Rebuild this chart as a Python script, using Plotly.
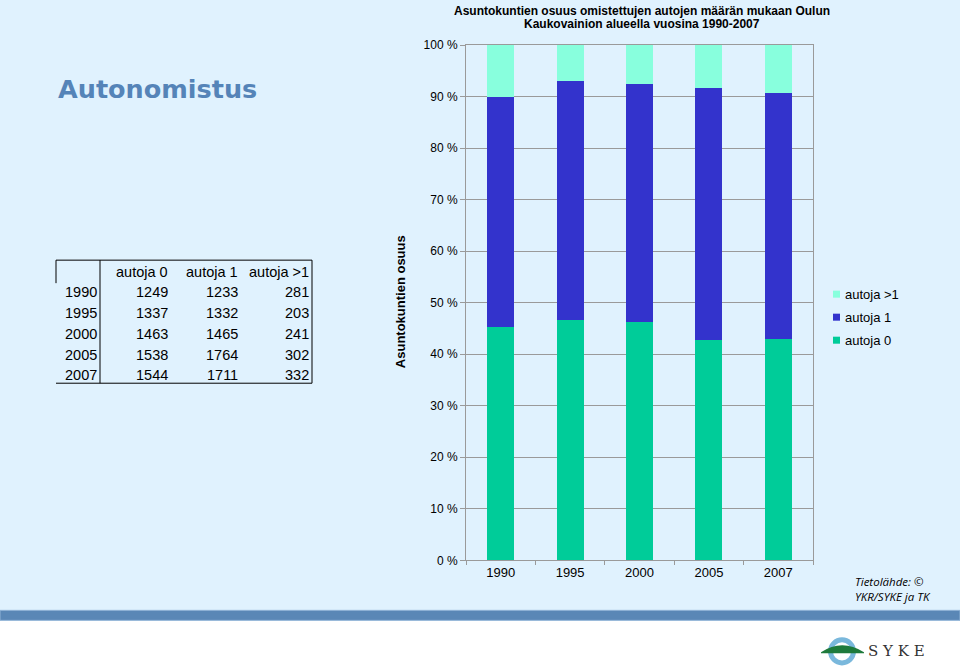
import plotly.graph_objects as go

years = ["1990", "1995", "2000", "2005", "2007"]
autoja_0 = [1249, 1337, 1463, 1538, 1544]
autoja_1 = [1233, 1332, 1465, 1764, 1711]
autoja_gt1 = [281, 203, 241, 302, 332]
series_names = ["autoja 0", "autoja 1", "autoja >1"]
ytick_vals = [i / 10 for i in range(11)]
ytick_text = [f"{i * 10} %" for i in range(11)]
title_lines = ["Asuntokuntien osuus omistettujen autojen määrän mukaan Oulun",
               "Kaukovainion alueella vuosina 1990-2007"]

W, H = 960, 672
# empirical vertical correction observed in the screenshot pipeline
V_OFF, V_SCALE = 7.0, 0.9786


def X(px):
    return px / W


def Y(py):
    return 1 - ((py - V_OFF) / V_SCALE) / H


totals = [a + b + c for a, b, c in zip(autoja_0, autoja_1, autoja_gt1)]
share0 = [a / t for a, t in zip(autoja_0, totals)]
share1 = [a / t for a, t in zip(autoja_1, totals)]
share2 = [a / t for a, t in zip(autoja_gt1, totals)]
colors = ["#00cc99", "#3333cc", "#88ffdd"]

FONT = "Liberation Sans"
fig = go.Figure()
for name, vals, col in zip(series_names, [share0, share1, share2], colors):
    fig.add_trace(go.Bar(x=years, y=vals, name=name, marker_color=col,
                         marker_line_width=0, showlegend=False, hoverinfo="skip"))

shapes = []
# background panel and band
shapes.append(dict(type="rect", xref="paper", yref="paper", x0=0, x1=1, y0=Y(610), y1=1.1,
                   fillcolor="#e0f2fe", line_width=0, layer="below"))
shapes.append(dict(type="rect", xref="paper", yref="paper", x0=0, x1=1, y0=Y(620), y1=Y(610),
                   fillcolor="#5a87b6", line=dict(color="#8fb3d6", width=1), layer="below"))

# table lines
tl = dict(color="black", width=1)
shapes += [
    dict(type="line", xref="paper", yref="paper", x0=X(56), x1=X(312), y0=Y(260), y1=Y(260), line=tl),
    dict(type="line", xref="paper", yref="paper", x0=X(56), x1=X(312), y0=Y(383), y1=Y(383), line=tl),
    dict(type="line", xref="paper", yref="paper", x0=X(56), x1=X(56), y0=Y(260), y1=Y(283), line=tl),
    dict(type="line", xref="paper", yref="paper", x0=X(100), x1=X(100), y0=Y(260), y1=Y(383), line=tl),
    dict(type="line", xref="paper", yref="paper", x0=X(312), x1=X(312), y0=Y(260), y1=Y(383), line=tl),
]

# manual legend (top to bottom: >1, 1, 0)
annotations = []
leg_y = [294, 317, 340]
for ly, name, col in zip(leg_y, series_names[::-1], colors[::-1]):
    shapes.append(dict(type="rect", xref="paper", yref="paper", x0=X(833), x1=X(840),
                       y0=Y(ly + 3.5), y1=Y(ly - 3.5), fillcolor=col, line_width=0))
    annotations.append(dict(text=name.replace(">", "&gt;"), x=X(843), y=Y(ly), xref="paper",
                            yref="paper", xanchor="left", yanchor="middle", showarrow=False,
                            font=dict(family=FONT, size=13, color="black")))

# SYKE logo
cx, cy, r = 842, 651, 14
shapes.append(dict(type="circle", xref="paper", yref="paper", x0=X(cx - r), x1=X(cx + r),
                   y0=Y(cy + r), y1=Y(cy - r), fillcolor="#7ab8dc", line_width=0))
shapes.append(dict(type="circle", xref="paper", yref="paper", x0=X(cx - 9), x1=X(cx + 9),
                   y0=Y(cy + 9), y1=Y(cy - 9), fillcolor="white", line_width=0))
hill = (f"M {X(821)} {Y(652)} Q {X(842)} {Y(638)} {X(864)} {Y(652)} "
        f"L {X(864)} {Y(653)} L {X(821)} {Y(653)} Z")
shapes.append(dict(type="path", xref="paper", yref="paper", path=hill,
                   fillcolor="#1e7a3c", line_width=0))

annotations.append(dict(text="<b>Autonomistus</b>", x=X(56), y=Y(89), xref="paper", yref="paper",
                        xanchor="left", yanchor="middle", showarrow=False,
                        font=dict(family="DejaVu Sans", size=25.5, color="#5584b8")))
for ty, line in zip([10.5, 23.5], title_lines):
    annotations.append(dict(text=f"<b>{line}</b>", x=X(642), y=Y(ty), xref="paper",
                            yref="paper", xanchor="center", yanchor="middle",
                            showarrow=False, font=dict(family=FONT, size=12, color="black")))
annotations.append(dict(text="<b>Asuntokuntien osuus</b>", x=X(400), y=Y(302), xref="paper",
                        yref="paper", xanchor="center", yanchor="middle", showarrow=False,
                        textangle=-90, font=dict(family=FONT, size=13, color="black")))
annotations.append(dict(text="<i>Tietolähde: ©<br>YKR/SYKE ja TK</i>", x=X(853), y=Y(589),
                        xref="paper", yref="paper", xanchor="left", yanchor="middle",
                        showarrow=False, align="left",
                        font=dict(family="Open Sans", size=11.5, color="black")))
annotations.append(dict(text="S Y K E", x=X(866), y=Y(651), xref="paper", yref="paper",
                        xanchor="left", yanchor="middle", showarrow=False,
                        font=dict(family="DejaVu Serif", size=15, color="#333333")))

# table text
TF = dict(family="Liberation Sans", size=14.5, color="black")
col_right = [170, 240, 311]
headers = ["autoja 0", "autoja 1", "autoja &gt;1"]
for hx, ht in zip(col_right, headers):
    annotations.append(dict(text=ht, x=X(hx), y=Y(272), xref="paper", yref="paper",
                            xanchor="right", yanchor="middle", showarrow=False, font=TF))
row_y = [292, 313, 334, 355, 375]
for i, yr in enumerate(years):
    annotations.append(dict(text=yr, x=X(99), y=Y(row_y[i]), xref="paper", yref="paper",
                            xanchor="right", yanchor="middle", showarrow=False, font=TF))
    for hx, val in zip(col_right, [autoja_0[i], autoja_1[i], autoja_gt1[i]]):
        annotations.append(dict(text=str(val), x=X(hx), y=Y(row_y[i]), xref="paper",
                                yref="paper", xanchor="right", yanchor="middle",
                                showarrow=False, font=TF))

fig.update_layout(
    width=W, height=H, margin=dict(l=0, r=0, t=0, b=0),
    paper_bgcolor="white", plot_bgcolor="rgba(0,0,0,0)",
    barmode="stack", bargap=0.61, showlegend=False, hovermode=False,
    font=dict(family=FONT, size=12, color="black"),
    shapes=shapes, annotations=annotations,
    xaxis=dict(domain=[X(466), X(813)], showline=True, linecolor="#9a9a9a", mirror=True,
               ticks="outside", tickson="boundaries", ticklen=4, tickcolor="#9a9a9a",
               tickfont=dict(size=13), showgrid=False),
    yaxis=dict(domain=[Y(560), Y(45)], range=[0, 1], tickvals=ytick_vals, ticktext=ytick_text,
               showline=True, linecolor="#9a9a9a", mirror=True, ticks="outside", ticklen=5,
               tickcolor="#9a9a9a", showgrid=True, gridcolor="#9a9a9a", gridwidth=1,
               tickfont=dict(size=12), zeroline=False),
)

post = (
    "document.documentElement.style.margin='0';"
    "document.documentElement.style.padding='0';"
    "document.documentElement.style.overflow='hidden';"
    "document.body.style.margin='0';"
    "document.body.style.padding='0';"
    "document.body.style.overflow='hidden';"
    "var d=document.getElementById('{plot_id}');"
    "d.style.position='fixed';d.style.left='0px';d.style.top='0px';"
)

fig.write_html("out.html", config={"displayModeBar": False, "staticPlot": True},
               post_script=post)
